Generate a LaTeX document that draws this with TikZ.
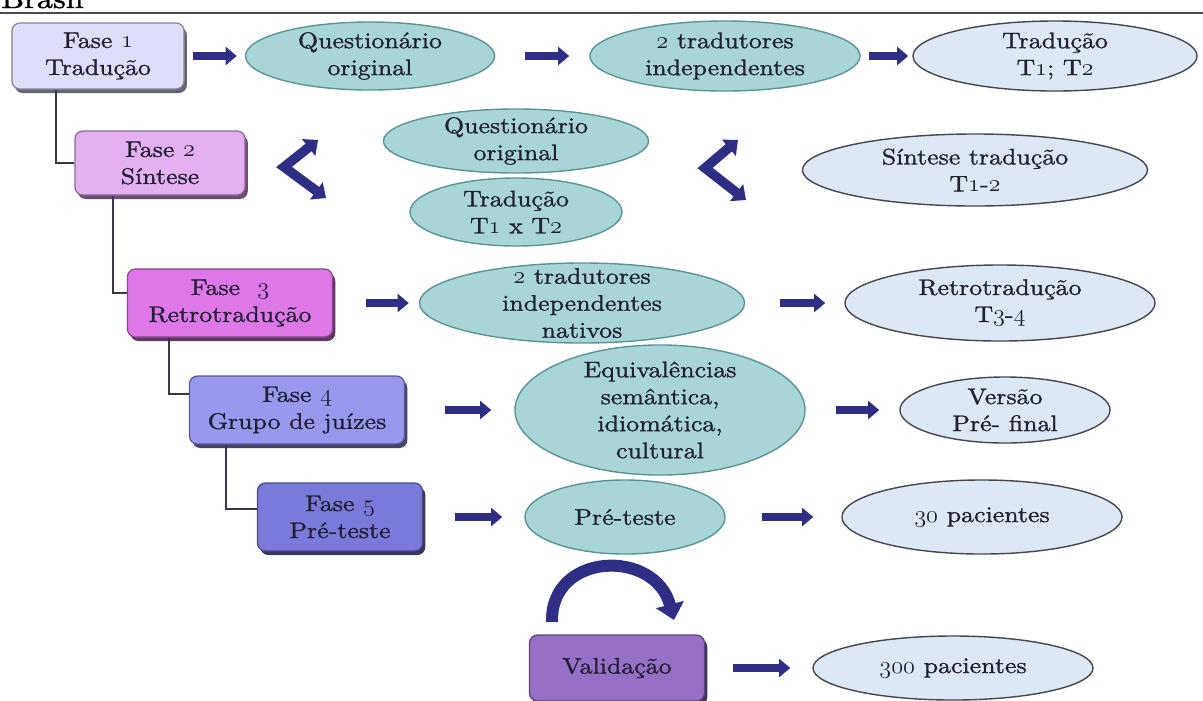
\documentclass[tikz,border=0pt]{standalone}
\usepackage{fontspec}
\setmainfont{lmroman10-regular.otf}[FakeStretch=1.15, FakeBold=1.2]
\usetikzlibrary{shapes.geometric,arrows.meta,calc,shadows}

\definecolor{navy}{RGB}{46,46,132}
\definecolor{ink}{RGB}{34,32,52}
\definecolor{tealfill}{RGB}{168,214,214}
\definecolor{tealline}{RGB}{92,148,150}
\definecolor{skyfill}{RGB}{221,232,246}
\definecolor{skyline}{RGB}{70,70,76}
\definecolor{faseA}{RGB}{222,222,250}
\definecolor{faseB}{RGB}{228,176,242}
\definecolor{faseC}{RGB}{222,120,232}
\definecolor{faseD}{RGB}{152,152,238}
\definecolor{faseE}{RGB}{122,122,218}
\definecolor{faseV}{RGB}{150,112,198}

% algarismos antigos
\newcommand{\os}[1]{{\usefont{OML}{lmm}{b}{it}#1}}

\tikzset{
  fase/.style={rectangle, rounded corners=0.2cm, fill=#1, draw=#1!60!black,
    line width=0.9pt, align=center, inner sep=0pt,
    general shadow={fill=#1!45!black, shadow xshift=0.07cm, shadow yshift=-0.1cm}},
  etapa/.style={ellipse, fill=tealfill, draw=tealline, line width=1pt,
    align=center, inner xsep=0pt, inner ysep=-10pt},
  saida/.style={ellipse, fill=skyfill, draw=skyline, line width=1pt,
    align=center, inner xsep=0pt, inner ysep=-10pt},
  seta/.style={navy, line width=0.2cm, -{Triangle[length=0.28cm,width=0.45cm]}},
  dupla/.style={navy, line width=0.24cm, line join=miter,
    {Triangle[length=0.3cm,width=0.52cm]}-{Triangle[length=0.3cm,width=0.52cm]}},
  curva/.style={navy, line width=0.3cm, -{Triangle[length=0.4cm,width=0.7cm]}},
  elo/.style={draw=ink!90, line width=1.4pt},
}

\begin{document}
\begin{tikzpicture}[x=0.025cm,y=-0.025cm,
  every node/.style={font=\fontsize{16}{19.2}\selectfont, text=ink}]
\path[use as bounding box, fill=white] (0,0) rectangle (1203,700);

% cabecalho da pagina
\node[anchor=base west, inner sep=0pt, font=\fontsize{20}{20}\selectfont, text=black] (pais) at (1,8) {Brasil};
\draw[gray!60!black, line width=0.8pt] (0,13) -- (1203,13);

% fases
\node[fase=faseA, minimum width=4.3cm, minimum height=1.65cm] (f1) at (98,56) {Fase \os{1}\\Tradução};
\node[fase=faseB, minimum width=4.25cm, minimum height=1.6cm] (f2) at (160,163) {Fase \os{2}\\Síntese};
\node[fase=faseC, minimum width=5.125cm, minimum height=1.7cm] (f3) at (230,303) {Fase\ \ \os{3}\\Retrotradução};
\node[fase=faseD, minimum width=5.375cm, minimum height=1.7cm] (f4) at (297,410) {Fase \os{4}\\Grupo de juízes};
\node[fase=faseE, minimum width=4.125cm, minimum height=1.7cm] (f5) at (340,517) {Fase \os{5}\\Pré-teste};
\node[fase=faseV, minimum width=4.375cm, minimum height=1.65cm] (val) at (617,668) {Validação};

% linha 1
\node[etapa, minimum width=6.225cm, minimum height=1.7cm] (q1) at (370,56) {Questionário\\original};
\node[etapa, minimum width=6.75cm, minimum height=1.75cm] (t1) at (725,56) {\os{2} tradutores\\independentes};
\node[saida, minimum width=7.1cm, minimum height=1.75cm] (r1) at (1055,56) {Tradução\\T\os{1}; T\os{2}};

% linha 2
\node[etapa, minimum width=6.625cm, minimum height=1.6cm] (q2) at (516,141) {Questionário\\original};
\node[etapa, minimum width=5.3cm, minimum height=1.7cm] (tt) at (516,212) {Tradução\\T\os{1} x T\os{2}};
\node[saida, minimum width=8.625cm, minimum height=1.8cm] (s2) at (975,170) {Síntese tradução\\T\os{1}-\os{2}};

% linha 3
\node[etapa, minimum width=8.125cm, minimum height=2cm] (n3) at (582,303) {\os{2} tradutores\\independentes\\nativos};
\node[saida, minimum width=7.75cm, minimum height=1.9cm] (r3) at (1000,303) {Retrotradução\\T\os{3}-\os{4}};

% linha 4
\node[etapa, minimum width=7.25cm, minimum height=3.25cm] (e4) at (660,410) {Equivalências\\semântica,\\idiomática,\\cultural};
\node[saida, minimum width=5.25cm, minimum height=1.65cm] (v4) at (1005,410) {Versão\\Pré- final};

% linha 5
\node[etapa, minimum width=5cm, minimum height=1.85cm] (p5) at (625,517) {Pré-teste};
\node[saida, minimum width=7cm, minimum height=1.85cm] (c5) at (982,517) {\os{30} pacientes};

% linha 6
\node[saida, minimum width=7cm, minimum height=1.6cm] (c6) at (953,668) {\os{300} pacientes};

% ligacoes entre as fases
\draw[elo] ($(f1.south west)+(45,0)$) |- (f2.west);
\draw[elo] ($(f2.south west)+(39,0)$) |- ($(f3.west)+(0,-10)$);
\draw[elo] ($(f3.south west)+(42,0)$) |- ($(f4.west)+(0,-16)$);
\draw[elo] ($(f4.south west)+(37,0)$) |- ($(f5.west)+(0,-8)$);

% setas
\draw[seta, shorten <=0.2cm, shorten >=0.2cm] (f1) -- (q1);
\draw[seta, shorten <=0.75cm, shorten >=0.5cm] (q1) -- (t1);
\draw[seta, shorten <=0.2cm, shorten >=0.1cm] (t1) -- (r1);
\draw[seta, shorten <=0.825cm, shorten >=0.25cm] (f3) -- (n3);
\draw[seta, shorten <=0.875cm, shorten >=0.475cm] (n3) -- (r3);
\draw[seta, shorten <=1cm, shorten >=0.575cm] (f4) -- (e4);
\draw[seta, shorten <=0.75cm, shorten >=0.5cm] (e4) -- (v4);
\draw[seta, shorten <=0.8cm, shorten >=0.55cm] (f5) -- (p5);
\draw[seta, shorten <=0.9cm, shorten >=0.7cm] (p5) -- (c5);
\draw[seta, shorten <=0.7cm, shorten >=0.55cm] (val) -- (c6);

% setas em angulo
\coordinate (ch1a) at (318,140);
\coordinate (ch1v) at (284,167);
\coordinate (ch1b) at (326,198);
\draw[dupla] (ch1a) -- (ch1v) -- (ch1b);
\coordinate (ch2a) at (738,140);
\coordinate (ch2v) at (705,168);
\coordinate (ch2b) at (746,200);
\draw[dupla] (ch2a) -- (ch2v) -- (ch2b);

% seta curva
\coordinate (volta0) at (552,622);
\coordinate (volta1) at (674,620);
\draw[curva] (volta0) .. controls (550,552) and (655,548) .. (volta1);
\end{tikzpicture}
\end{document}
